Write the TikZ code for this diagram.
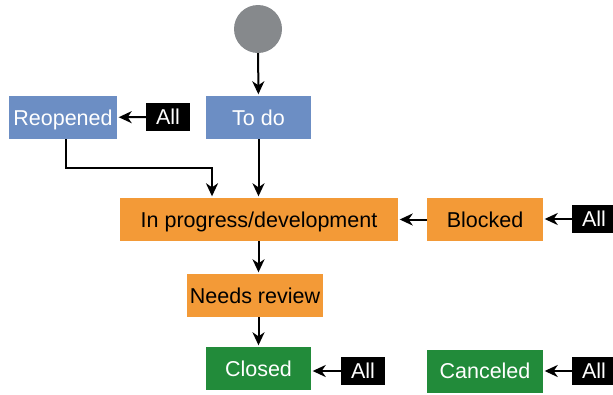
\documentclass[tikz,border=0pt]{standalone}
\usepackage{fontspec}
\setmainfont{Liberation Sans}
\usetikzlibrary{arrows.meta}
\definecolor{cblue}{HTML}{6C8EC4}
\definecolor{corange}{HTML}{F39A37}
\definecolor{cgreen}{HTML}{228B3A}
\definecolor{cgray}{HTML}{86898C}
\tikzset{
  box/.style={rectangle, inner sep=0pt, minimum height=43pt, text height=15pt, text depth=-1pt, font=\fontsize{21.5}{24}\selectfont},
  bluebox/.style={box, fill=cblue, text=white},
  orangebox/.style={box, fill=corange, text=black},
  greenbox/.style={box, fill=cgreen, text=white},
  allbox/.style={rectangle, inner sep=0pt, minimum width=44pt, minimum height=28pt, text height=15pt, text depth=-1pt, fill=black, text=white, font=\fontsize{21.5}{24}\selectfont},
  arr/.style={-{Stealth[length=13pt,width=12pt,inset=4pt]}, line width=2pt, shorten >=1.5pt},
}
\begin{document}
\begin{tikzpicture}[x=1pt,y=-1pt]
\useasboundingbox (0,0) rectangle (613,394);
\node[circle, fill=cgray, minimum size=48pt, inner sep=0pt] (start) at (258,29) {};
\node[bluebox, minimum width=105pt] (todo) at (258.5,117.5) {To do};
\node[bluebox, minimum width=108pt] (reopened) at (63,117.5) {Reopened};
\node[allbox] (all1) at (168,117) {All};
\node[orangebox, minimum width=278pt] (inprog) at (259,219.5) {In progress/development};
\node[orangebox, minimum width=116pt] (blocked) at (485,219.5) {Blocked};
\node[allbox] (all2) at (594,219) {All};
\node[orangebox, minimum width=136pt] (review) at (255,295.5) {Needs review};
\node[greenbox, minimum width=105pt] (closed) at (258.5,368.5) {Closed};
\node[allbox] (all3) at (363,371) {All};
\node[greenbox, minimum width=116pt] (canceled) at (485,371) {Canceled};
\node[allbox] (all4) at (594,371) {All};
\coordinate (bend) at (212,168);
\draw[arr] (start) -- (todo);
\draw[arr] (all1) -- (reopened);
\draw[arr] ([xshift=3pt]reopened.south) |- (bend) -- (bend |- inprog.north);
\draw[arr] (todo) -- (todo |- inprog.north);
\draw[arr] (blocked) -- (inprog);
\draw[arr] (all2.west) -- (blocked.east |- all2.west);
\draw[arr] (inprog.south -| todo.south) -- (review.north -| todo.south);
\draw[arr] (review.south -| todo.south) -- (closed.north);
\draw[arr] (all3.west) -- (closed.east |- all3.west);
\draw[arr] (all4) -- (canceled);
\end{tikzpicture}
\end{document}
